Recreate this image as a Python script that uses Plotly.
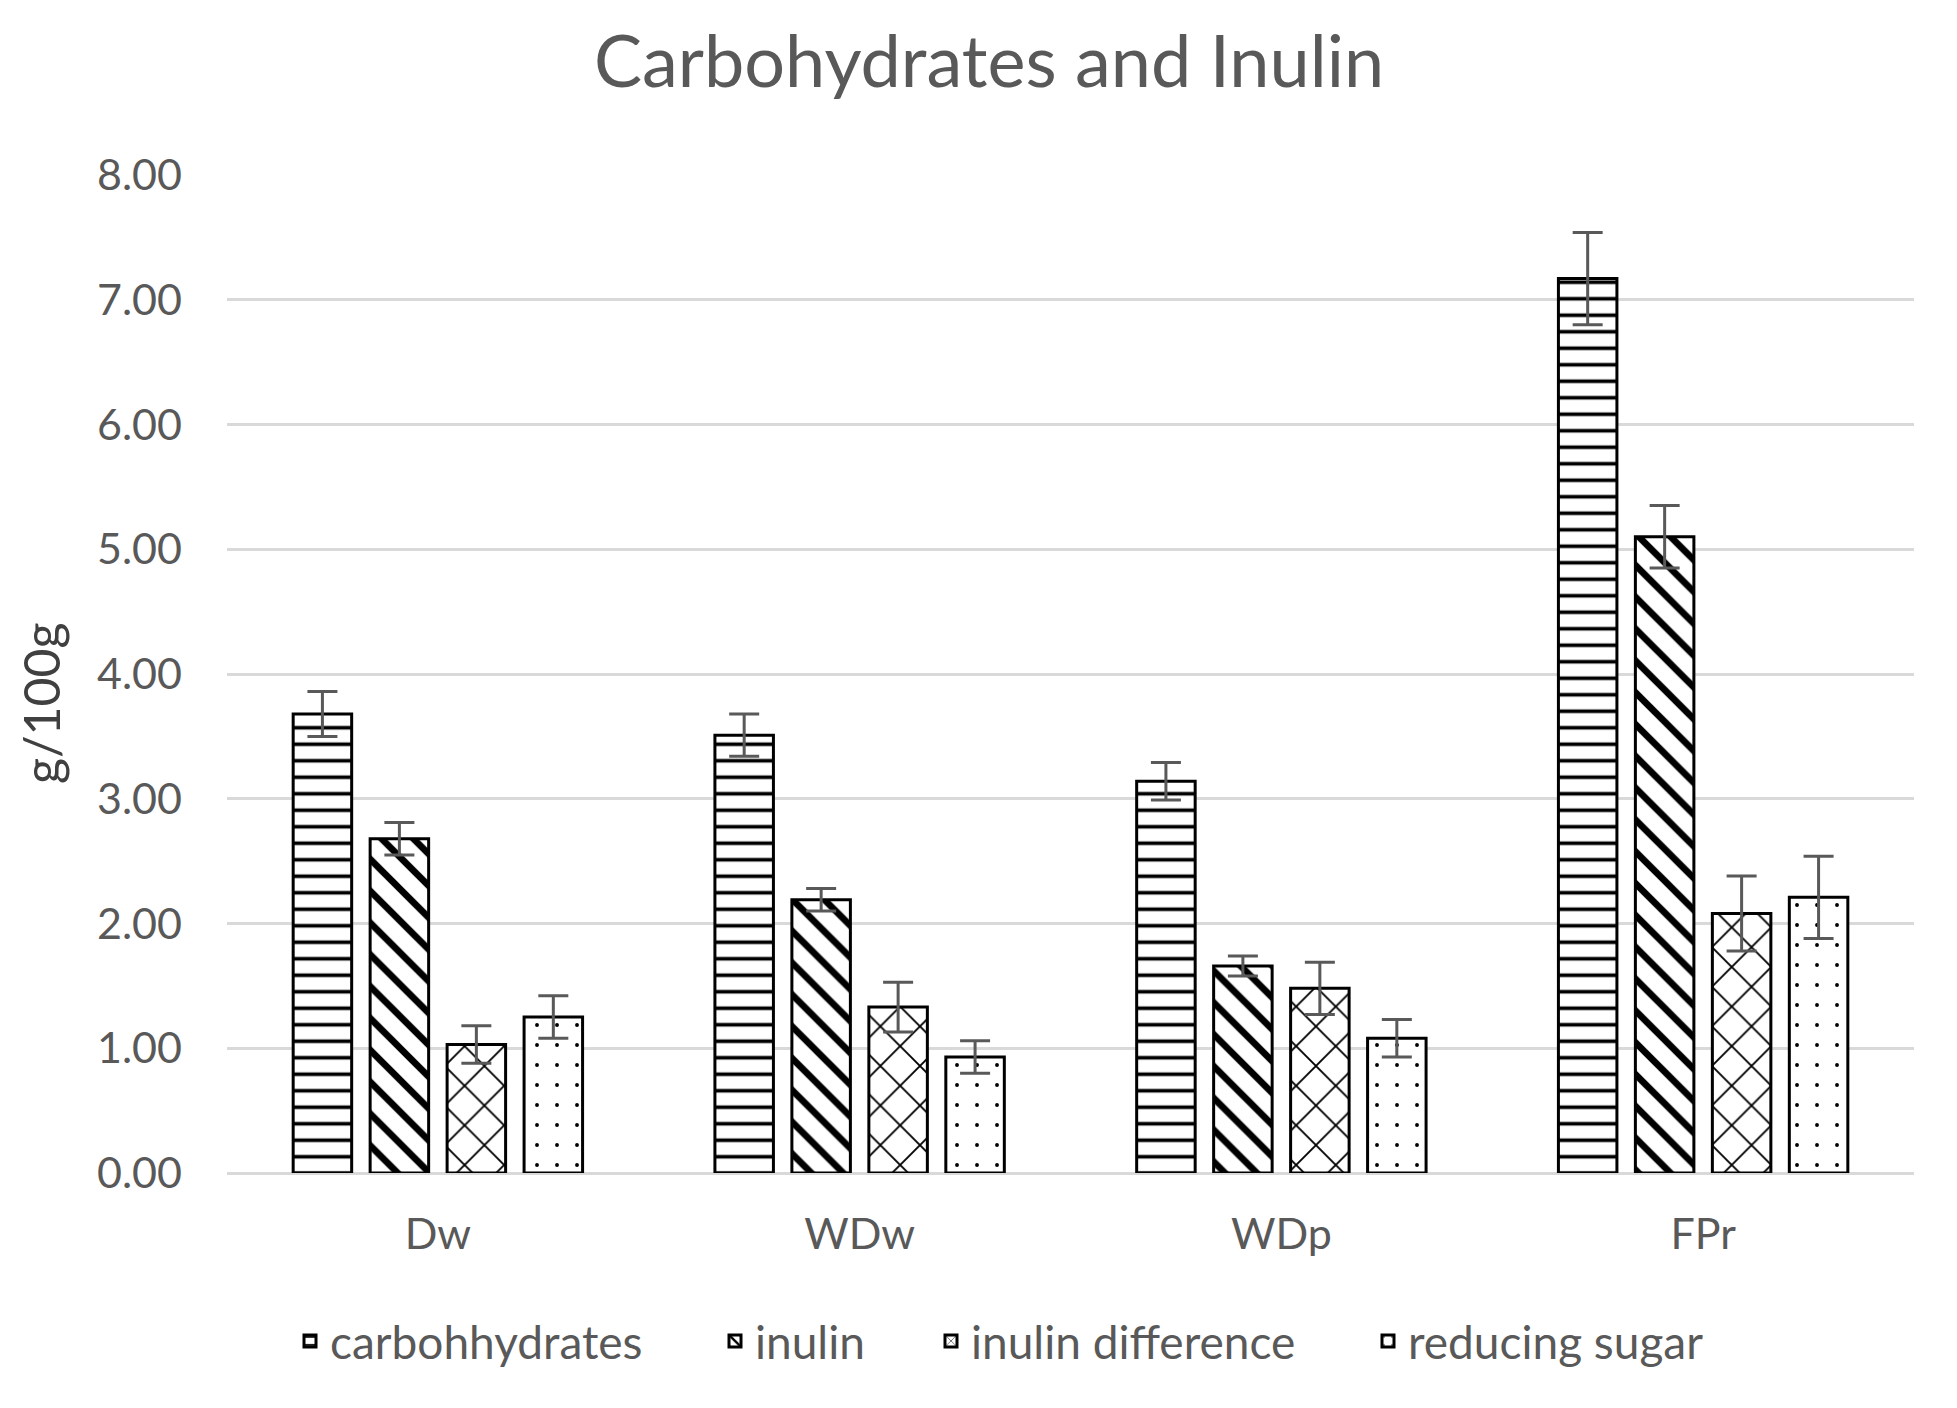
import plotly.graph_objects as go

categories = ["Dw", "WDw", "WDp", "FPr"]
series_names = ["carbohhydrates", "inulin", "inulin difference", "reducing sugar"]

carbohydrates = [3.68, 3.51, 3.14, 7.17]
carbohydrates_err = [0.18, 0.17, 0.15, 0.37]
inulin = [2.68, 2.19, 1.66, 5.10]
inulin_err = [0.13, 0.09, 0.08, 0.25]
inulin_difference = [1.03, 1.33, 1.48, 2.08]
inulin_difference_err = [0.15, 0.20, 0.21, 0.30]
reducing_sugar = [1.25, 0.93, 1.08, 2.21]
reducing_sugar_err = [0.17, 0.13, 0.15, 0.33]

y_ticks = [0, 1, 2, 3, 4, 5, 6, 7, 8]

W, H = 1957, 1408
OFF = 8  # page body margin compensation
L, R, T, B = 227 - OFF, 1914 - OFF, 175 - OFF, 1173 - OFF

FONT = "Lato"
GRAY = "#595959"

values = [carbohydrates, inulin, inulin_difference, reducing_sugar]
errors = [carbohydrates_err, inulin_err, inulin_difference_err, reducing_sugar_err]
patterns = [
    dict(shape="-", size=16.5, solidity=0.22),
    dict(shape="\\", size=22.5, solidity=0.30),
    dict(shape="x", size=28, solidity=0.13),
    dict(shape=".", size=20, solidity=0.03),
]
legend_ids = ["legend", "legend2", "legend3", "legend4"]
legend_text_x = [331, 756, 972, 1409]

fig = go.Figure()
for name, v, e, p, lg in zip(series_names, values, errors, patterns, legend_ids):
    fig.add_trace(go.Bar(
        x=categories, y=v, name=name, legend=lg,
        marker=dict(
            color="white",
            line=dict(color="black", width=3),
            pattern=dict(fgcolor="black", bgcolor="white", fillmode="replace", **p),
        ),
        error_y=dict(type="data", array=e, visible=True, color=GRAY,
                     thickness=3, width=15),
    ))

layout_legends = {}
for lg, tx in zip(legend_ids, legend_text_x):
    layout_legends[lg] = dict(
        orientation="h", xref="container", yref="container",
        x=(tx - 41 - OFF) / W, y=1 - (1341 - OFF) / H, xanchor="left", yanchor="middle",
        font=dict(family=FONT, size=46, color=GRAY),
        bgcolor="rgba(0,0,0,0)",
    )

fig.update_layout(
    width=W, height=H,
    margin=dict(l=L, r=W - R, t=T, b=H - B, autoexpand=False),
    paper_bgcolor="white", plot_bgcolor="white",
    barmode="group", bargap=0.27, bargroupgap=0.24,
    showlegend=True,
    title=dict(text="Carbohydrates and Inulin", xref="container", yref="container",
               x=(989 - OFF) / W, y=1 - (62 - OFF) / H, xanchor="center", yanchor="middle",
               font=dict(family=FONT, size=72, color=GRAY)),
    xaxis=dict(showgrid=False, showline=False, zeroline=False,
               tickfont=dict(family=FONT, size=43, color=GRAY),
               ticklabelstandoff=32),
    yaxis=dict(range=[0, 8], tickvals=y_ticks, tickformat=".2f",
               showgrid=True, gridcolor="#d9d9d9", gridwidth=3,
               zeroline=True, zerolinecolor="#d9d9d9", zerolinewidth=3,
               showline=False,
               tickfont=dict(family=FONT, size=43, color=GRAY),
               ticklabelstandoff=44),
    annotations=[dict(text="g/100g", textangle=-90, xref="paper", yref="paper",
                      x=(41 - OFF - L) / (R - L), y=(B - (703 - OFF)) / (B - T),
                      xanchor="center", yanchor="middle", showarrow=False,
                      font=dict(family=FONT, size=50, color="#404040"))],
    **layout_legends,
)

fig.write_html("out.html")
